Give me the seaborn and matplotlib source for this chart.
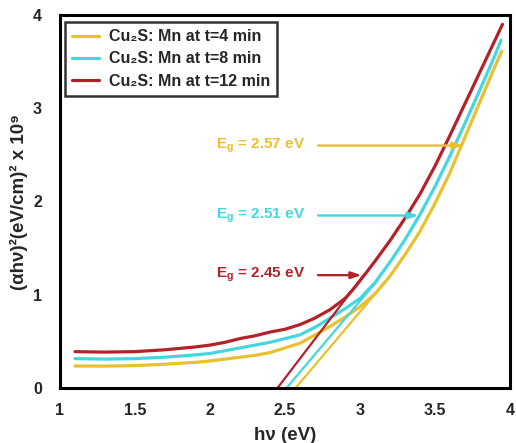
import matplotlib
matplotlib.use("Agg")
import matplotlib.pyplot as plt
import numpy as np
import pandas as pd
import seaborn as sns
from matplotlib.ticker import MultipleLocator

# Tauc plot data: photon energy (eV) vs (alpha*h*nu)^2 in units of 1e9 (eV/cm)^2
series_labels = ["Cu₂S: Mn at t=4 min", "Cu₂S: Mn at t=8 min", "Cu₂S: Mn at t=12 min"]
colors = ["#E9C02E", "#45D6DF", "#B3222B"]

hv_4min = [1.1, 1.3, 1.5, 1.7, 1.9, 2.0, 2.1, 2.2, 2.3, 2.4, 2.5, 2.6, 2.7, 2.8, 2.9,
           3.0, 3.1, 3.2, 3.3, 3.4, 3.5, 3.6, 3.7, 3.8, 3.9, 3.945]
ahv2_4min = [0.236, 0.235, 0.24, 0.255, 0.275, 0.29, 0.31, 0.33, 0.35, 0.38, 0.43, 0.48,
             0.57, 0.66, 0.76, 0.87, 1.01, 1.20, 1.43, 1.68, 1.98, 2.31, 2.69, 3.07, 3.45, 3.61]

hv_8min = [1.1, 1.3, 1.5, 1.7, 1.9, 2.0, 2.1, 2.2, 2.3, 2.4, 2.5, 2.6, 2.7, 2.8, 2.9,
           3.0, 3.1, 3.2, 3.3, 3.4, 3.5, 3.6, 3.7, 3.8, 3.9, 3.94]
ahv2_8min = [0.315, 0.31, 0.315, 0.33, 0.355, 0.37, 0.40, 0.43, 0.46, 0.49, 0.53, 0.57,
             0.65, 0.75, 0.85, 0.96, 1.13, 1.35, 1.59, 1.86, 2.16, 2.49, 2.84, 3.20, 3.57, 3.73]

hv_12min = [1.1, 1.3, 1.5, 1.7, 1.9, 2.0, 2.1, 2.2, 2.3, 2.4, 2.5, 2.6, 2.7, 2.8, 2.9,
            2.95, 3.0, 3.1, 3.2, 3.3, 3.4, 3.5, 3.6, 3.7, 3.8, 3.9, 3.95]
ahv2_12min = [0.39, 0.385, 0.39, 0.41, 0.44, 0.46, 0.49, 0.53, 0.56, 0.60, 0.63, 0.68,
              0.75, 0.84, 0.96, 1.05, 1.15, 1.36, 1.58, 1.82, 2.08, 2.38, 2.71, 3.05, 3.39, 3.73, 3.90]

# Linear extrapolation to the energy axis (band gap) for each sample
band_gaps = [2.57, 2.51, 2.45]
fit_end_hv = [3.17, 3.12, 3.02]
fit_end_ahv2 = [1.14, 1.16, 1.20]

# Band-gap annotations
gap_labels = ["2.57", "2.51", "2.45"]
arrow_y = [2.60, 1.85, 1.21]
arrow_start_x = [2.72, 2.72, 2.72]
arrow_end_x = [3.69, 3.39, 3.01]
label_x = 2.04

frames = []
for lab, xs, ys in zip(series_labels,
                       [hv_4min, hv_8min, hv_12min],
                       [ahv2_4min, ahv2_8min, ahv2_12min]):
    frames.append(pd.DataFrame({"hv": xs, "ahv2": ys, "sample": lab}))
df = pd.concat(frames, ignore_index=True)

sns.set_style("white")
plt.rcParams["font.family"] = ["Liberation Sans", "DejaVu Sans"]
plt.rcParams["font.weight"] = "bold"
plt.rcParams["mathtext.fontset"] = "custom"
plt.rcParams["mathtext.rm"] = "Liberation Sans:bold"
plt.rcParams["mathtext.bf"] = "Liberation Sans:bold"
plt.rcParams["mathtext.it"] = "Liberation Sans:bold"

fig = plt.figure(figsize=(5.16, 4.43), dpi=100)
ax = fig.add_axes([60 / 516, 1 - 388 / 443, 450 / 516, 373 / 443])

sns.lineplot(data=df, x="hv", y="ahv2", hue="sample", palette=colors,
             hue_order=series_labels, estimator=None, sort=False,
             linewidth=2.3, ax=ax, legend=True)
handles, labels = ax.get_legend_handles_labels()

for eg, xe, ye, c in zip(band_gaps, fit_end_hv, fit_end_ahv2, colors):
    sns.lineplot(x=[eg, xe], y=[0, ye], color=c, linewidth=1.6, ax=ax, legend=False)

for g, y, xs, xe, c in zip(gap_labels, arrow_y, arrow_start_x, arrow_end_x, colors):
    ax.annotate("", xy=(xe, y), xytext=(xs, y),
                arrowprops=dict(arrowstyle="-|>,head_length=0.6,head_width=0.2",
                                color=c, lw=1.7, shrinkA=0, shrinkB=0))
    ax.text(label_x, y, r"$\mathregular{E_g}$ = " + g + " eV", color=c,
            fontsize=11, fontweight="bold", ha="left", va="center")

ax.set_xlim(1, 4)
ax.set_ylim(0, 4)
ax.xaxis.set_major_locator(MultipleLocator(0.5))
ax.xaxis.set_minor_locator(MultipleLocator(0.1))
ax.yaxis.set_major_locator(MultipleLocator(1))
ax.yaxis.set_minor_locator(MultipleLocator(0.5))
ax.set_xticks([1, 1.5, 2, 2.5, 3, 3.5, 4])
ax.set_xticklabels(["1", "1.5", "2", "2.5", "3", "3.5", "4"])
ax.tick_params(axis="both", which="both", direction="out", top=False, right=False,
               width=1.8, color="black", labelsize=11.5)
ax.tick_params(axis="x", which="major", length=5, pad=6)
ax.tick_params(axis="x", which="minor", length=4)
ax.tick_params(axis="y", which="major", length=5, pad=8)
ax.tick_params(axis="y", which="minor", length=4)
for lab in ax.get_xticklabels() + ax.get_yticklabels():
    lab.set_fontweight("bold")

for side in ["left", "right", "top", "bottom"]:
    ax.spines[side].set_visible(True)
    ax.spines[side].set_linewidth(2.2)
    ax.spines[side].set_color("black")

ax.set_xlabel("hν (eV)", fontsize=13.5, fontweight="bold")
ax.set_ylabel("(αhν)²(eV/cm)² x 10⁹", fontsize=13.5, fontweight="bold")
ax.xaxis.set_label_coords(0.5, -0.105)
ax.xaxis.label.set_va("top")
ax.yaxis.set_label_coords(-0.071, 0.5)

leg = ax.legend(handles, labels, loc="upper left",
                bbox_to_anchor=(5 / 450, 1 - 7 / 373), borderaxespad=0,
                frameon=True, fancybox=False, fontsize=11.5, handlelength=1.7,
                handletextpad=0.6, labelspacing=0.45, borderpad=0.45)
leg.get_frame().set_edgecolor("black")
leg.get_frame().set_linewidth(1.8)
for t in leg.get_texts():
    t.set_fontweight("bold")
for h in leg.get_lines():
    h.set_linewidth(2.3)

fig.savefig("out.png", dpi=100, facecolor="white")
